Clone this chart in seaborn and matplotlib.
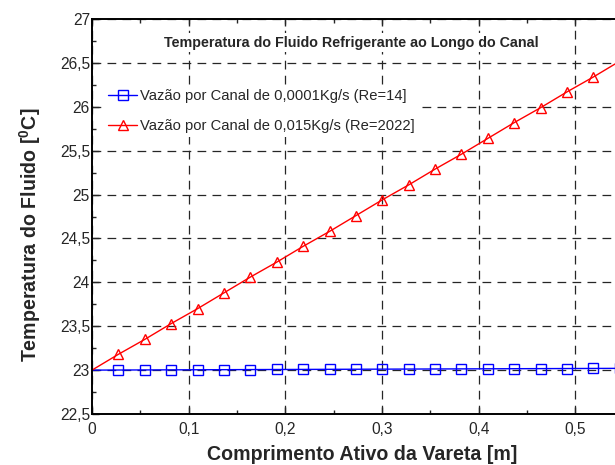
import matplotlib
matplotlib.use("Agg")
import matplotlib.pyplot as plt
import seaborn as sns
from matplotlib.ticker import MultipleLocator

# posicoes ao longo da vareta [m]
x_pos = [0.0, 0.0273, 0.0546, 0.0819, 0.1092, 0.1365, 0.1638, 0.1911, 0.2184,
         0.2457, 0.2730, 0.3003, 0.3276, 0.3549, 0.3822, 0.4095, 0.4368,
         0.4641, 0.4914, 0.5187, 0.5460]

# Re=14
temp_baixa = [23.000, 23.001, 23.002, 23.003, 23.004, 23.005, 23.006, 23.007,
              23.008, 23.009, 23.010, 23.011, 23.012, 23.013, 23.014, 23.015,
              23.016, 23.017, 23.018, 23.019, 23.020]

# Re=2022
temp_alta = [23.00, 23.18, 23.35, 23.53, 23.70, 23.88, 24.06, 24.23, 24.41,
             24.58, 24.76, 24.94, 25.11, 25.29, 25.46, 25.64, 25.82, 25.99,
             26.17, 26.34, 26.52]

label_baixa = "Vazão por Canal de 0,0001Kg/s (Re=14]"
label_alta = "Vazão por Canal de 0,015Kg/s (Re=2022]"

xticks = [0, 0.1, 0.2, 0.3, 0.4, 0.5]
xticklabels = ["0", "0,1", "0,2", "0,3", "0,4", "0,5"]
yticks = [22.5, 23, 23.5, 24, 24.5, 25, 25.5, 26, 26.5, 27]
yticklabels = ["22,5", "23", "23,5", "24", "24,5", "25", "25,5", "26", "26,5", "27"]

sns.set_style("ticks")
plt.rcParams["font.family"] = ["Liberation Sans", "DejaVu Sans"]
plt.rcParams["mathtext.fontset"] = "custom"
plt.rcParams["mathtext.rm"] = "Liberation Sans"
plt.rcParams["mathtext.bf"] = "Liberation Sans:bold"

fig = plt.figure(figsize=(6.15, 4.65), dpi=100)
ax = fig.add_axes([92 / 615, 51 / 465, 523 / 615, 395 / 465])

sns.lineplot(x=x_pos, y=temp_baixa, ax=ax, color="blue", linewidth=1,
             marker="s", markersize=6.5, markerfacecolor="none",
             markeredgecolor="blue", markeredgewidth=1,
             markevery=slice(1, None), label=label_baixa)
sns.lineplot(x=x_pos, y=temp_alta, ax=ax, color="red", linewidth=1,
             marker="^", markersize=7, markerfacecolor="none",
             markeredgecolor="red", markeredgewidth=1,
             markevery=slice(1, None), label=label_alta)

ax.set_xlim(0, 0.541)
ax.set_ylim(22.5, 27)
ax.set_xticks(xticks)
ax.set_xticklabels(xticklabels)
ax.set_yticks(yticks)
ax.set_yticklabels(yticklabels)
ax.xaxis.set_minor_locator(MultipleLocator(0.05))
ax.yaxis.set_minor_locator(MultipleLocator(0.25))
ax.tick_params(which="both", direction="in", top=True, right=False,
               labelsize=11.2, width=1)
ax.tick_params(which="major", length=5)
ax.tick_params(which="minor", length=3)
ax.tick_params(axis="x", which="major", pad=6)
ax.tick_params(axis="y", which="major", pad=1.5)

ax.grid(True, which="major", color="0.15", linestyle=(0, (7, 5)), linewidth=0.9)
ax.set_axisbelow(True)

for side in ["left", "bottom", "top"]:
    ax.spines[side].set_linewidth(1.4)
    ax.spines[side].set_color("black")
ax.spines["right"].set_visible(False)

ax.set_xlabel("Comprimento Ativo da Vareta [m]", fontsize=14.1,
              fontweight="bold")
ax.set_ylabel(r"Temperatura do Fluido [$\mathbf{^{0}}$C]", fontsize=14.1,
              fontweight="bold")
ax.xaxis.set_label_coords(0.516, -0.079)
ax.yaxis.set_label_coords(-0.093, 0.453)

ax.text(0.495, 0.94, "Temperatura do Fluido Refrigerante ao Longo do Canal",
        transform=ax.transAxes, ha="center", va="center", fontsize=10.3,
        fontweight="bold",
        bbox=dict(facecolor="white", edgecolor="none", pad=2))

leg = ax.legend(loc="upper left", bbox_to_anchor=(0.008, 0.852), fontsize=10.6,
                frameon=True, framealpha=1, edgecolor="none", fancybox=False,
                handlelength=2.0, handletextpad=0.2, labelspacing=1.05,
                borderpad=0.3)
leg.get_frame().set_facecolor("white")

fig.savefig("out.png", dpi=100)
